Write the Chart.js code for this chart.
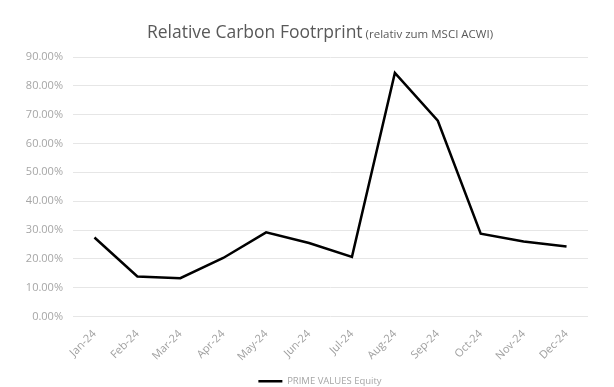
<!DOCTYPE html>
<html>
<head>
<meta charset="utf-8">
<script src="https://cdn.jsdelivr.net/npm/chart.js@4/dist/chart.umd.min.js"></script>
<style>
  html,body{margin:0;padding:0;background:#fff;}
  #wrap{position:relative;width:614px;height:387px;}
</style>
</head>
<body>
<div id="wrap"><canvas id="c" width="614" height="387"></canvas></div>
<script>
/* Relative Carbon Footprint line chart */
const months=['Jan-24','Feb-24','Mar-24','Apr-24','May-24','Jun-24','Jul-24','Aug-24','Sep-24','Oct-24','Nov-24','Dec-24'];
const footprint=[0.274,0.139,0.133,0.203,0.292,0.255,0.207,0.845,0.679,0.287,0.260,0.243];
const seriesName='PRIME VALUES Equity';
const titleMain='Relative Carbon Footrprint';
const titleSub=' (relativ zum MSCI ACWI)';

const FONT="'Open Sans', sans-serif";

// draws the two-size title at the top
const titlePlugin={
  id:'mixedTitle',
  afterDraw(chart){
    const ctx=chart.ctx;ctx.save();
    ctx.textBaseline='alphabetic';
    ctx.font='17.5px '+FONT;const w1=ctx.measureText(titleMain).width;
    ctx.font='11.5px '+FONT;const w2=ctx.measureText(titleSub).width;
    let x=320-(w1+w2)/2;const y=38;
    ctx.fillStyle='#595959';
    ctx.font='17.5px '+FONT;ctx.fillText(titleMain,x,y);
    ctx.font='11.5px '+FONT;ctx.fillText(titleSub,x+w1,y);
    ctx.restore();
  }
};

new Chart(document.getElementById('c'),{
  type:'line',
  data:{labels:months,datasets:[{label:seriesName,data:footprint,borderColor:'#000',backgroundColor:'#000',borderWidth:2.5,pointRadius:0,tension:0,fill:false}]},
  options:{
    responsive:false,animation:false,
    layout:{padding:{top:57,right:0,left:26,bottom:-9}},
    scales:{
      x:{offset:true,grid:{display:false},border:{display:false},
        ticks:{color:'#9f9f9f',font:{family:FONT,size:11},minRotation:45,maxRotation:45,padding:3},
        afterFit(s){s.height=59;}},
      y:{min:0,max:0.9,border:{display:false},
        grid:{color:'#e6e6e6',lineWidth:1,drawTicks:false},
        ticks:{stepSize:0.1,color:'#a6a6a6',font:{family:FONT,size:11},padding:10,
          callback:v=>(v*100).toFixed(2)+'%'},
        afterFit(s){s.width=47;}},
      // empty spacer on the right so the legend centres like the original
      yR:{position:'right',min:0,max:0.9,grid:{display:false},border:{display:false},
        ticks:{display:false},afterFit(s){s.width=26;}}
    },
    plugins:{
      title:{display:false},
      tooltip:{enabled:false},
      legend:{position:'bottom',labels:{usePointStyle:true,pointStyle:'line',pointStyleWidth:24,color:'#a6a6a6',font:{family:FONT,size:9.5},padding:1,boxHeight:2}}
    }
  },
  plugins:[titlePlugin]
});
</script>
</body>
</html>
